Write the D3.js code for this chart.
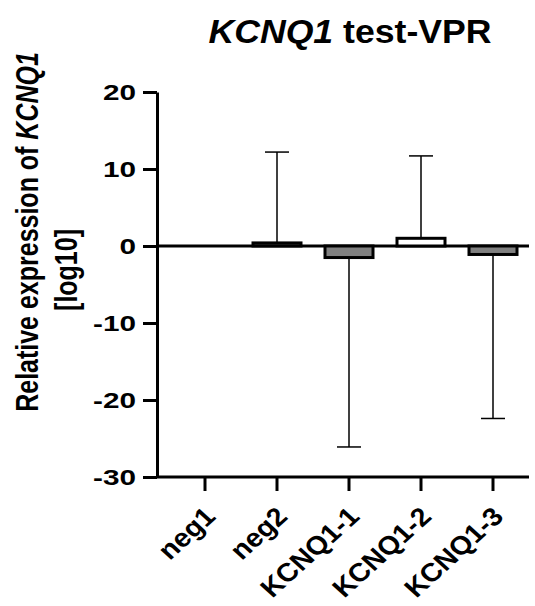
<!DOCTYPE html>
<html>
<head>
<meta charset="utf-8">
<script src="https://cdn.jsdelivr.net/npm/d3@7"></script>
<style>
  body { margin: 0; background: #fff; }
  text { font-family: "Liberation Sans", Arial, sans-serif; font-weight: bold; fill: #000; }
</style>
</head>
<body>
<script>
// Data (log10 relative expression)
const groups = ["neg1", "neg2", "KCNQ1-1", "KCNQ1-2", "KCNQ1-3"];
const means = [0, 0.4, -1.5, 1.0, -1.1];
const errors = [0, 11.8, 24.6, 10.7, 21.3];
const fills = ["#ffffff", "#ffffff", "#808080", "#ffffff", "#808080"];
const yTicks = [20, 10, 0, -10, -20, -30];

const w = 535;
const h = 606;
const axisLeft = 157;
const axisRight = 529;

const svg = d3.select("body").append("svg").attr("width", w).attr("height", h);

const xScale = d3.scaleBand()
  .domain(groups)
  .range([169, axisRight])
  .paddingInner(1 / 3)
  .paddingOuter(1 / 6);

const yScale = d3.scaleLinear()
  .domain([-30, 20])
  .range([477, 92]);

// Title
const title = svg.append("text")
  .attr("transform", "translate(350,43) scale(1.08,1)")
  .attr("text-anchor", "middle")
  .style("font-size", "33px");
title.append("tspan").style("font-style", "italic").text("KCNQ1");
title.append("tspan").text(" test-VPR");

// Y axis title (two lines)
const yt1 = svg.append("text")
  .attr("transform", "translate(38,232) rotate(-90) scale(1,1.25)")
  .attr("text-anchor", "middle")
  .style("font-size", "25px");
yt1.append("tspan").text("Relative expression of ");
yt1.append("tspan").style("font-style", "italic").text("KCNQ1");

svg.append("text")
  .attr("transform", "translate(77,270) rotate(-90) scale(1,1.25)")
  .attr("text-anchor", "middle")
  .style("font-size", "25px")
  .text("[log10]");

// Zero baseline
svg.append("line")
  .attr("x1", axisLeft)
  .attr("x2", axisRight)
  .attr("y1", yScale(0))
  .attr("y2", yScale(0))
  .attr("stroke", "#000")
  .attr("stroke-width", 3);

// Error bars (one-sided, away from zero)
const errG = svg.append("g");
groups.forEach((g, i) => {
  if (errors[i] === 0) return;
  const cx = xScale(g) + xScale.bandwidth() / 2;
  const dir = means[i] >= 0 ? 1 : -1;
  const end = means[i] + dir * errors[i];
  errG.append("line")
    .attr("x1", cx).attr("x2", cx)
    .attr("y1", yScale(means[i])).attr("y2", yScale(end))
    .attr("stroke", "#000").attr("stroke-width", 1.5);
  errG.append("line")
    .attr("x1", cx - 12).attr("x2", cx + 12)
    .attr("y1", yScale(end)).attr("y2", yScale(end))
    .attr("stroke", "#000").attr("stroke-width", 1.5);
});

// Bars
svg.selectAll("rect.bar")
  .data(groups)
  .enter()
  .append("rect")
  .attr("class", "bar")
  .attr("x", (d) => xScale(d))
  .attr("width", xScale.bandwidth())
  .attr("y", (d, i) => yScale(Math.max(means[i], 0)))
  .attr("height", (d, i) => Math.abs(yScale(means[i]) - yScale(0)))
  .attr("fill", (d, i) => fills[i])
  .attr("stroke", "#000")
  .attr("stroke-width", (d, i) => (means[i] === 0 ? 0 : 3));

// Y axis
const yAxis = d3.axisLeft(yScale)
  .tickValues(yTicks)
  .tickFormat((d) => String(d))
  .tickSize(14)
  .tickSizeOuter(0);
const yG = svg.append("g")
  .attr("transform", "translate(" + axisLeft + ",0)")
  .call(yAxis);
yG.select(".domain").attr("stroke-width", 3);
yG.selectAll(".tick line").attr("stroke-width", 3);
yG.selectAll(".tick text")
  .attr("x", 0)
  .attr("transform", "translate(-21,0) scale(1.35,1)")
  .style("font-size", "22px");

// X axis
const xAxis = d3.axisBottom(xScale).tickSize(14).tickSizeOuter(0);
const xG = svg.append("g")
  .attr("transform", "translate(0," + yScale(-30) + ")")
  .call(xAxis);
xG.select(".domain").attr("d", "M" + axisLeft + ",0H" + axisRight).attr("stroke-width", 3);
xG.selectAll(".tick line").attr("stroke-width", 3);
xG.selectAll(".tick text")
  .style("font-size", "26px")
  .attr("text-anchor", "end")
  .attr("dy", null)
  .attr("y", 0)
  .attr("transform", "translate(12,41) scale(1.1,1) rotate(-45)");

svg.selectAll(".domain, .tick line").attr("stroke", "#000");
svg.selectAll("g text").attr("font-family", null).attr("font-size", null);
</script>
</body>
</html>
